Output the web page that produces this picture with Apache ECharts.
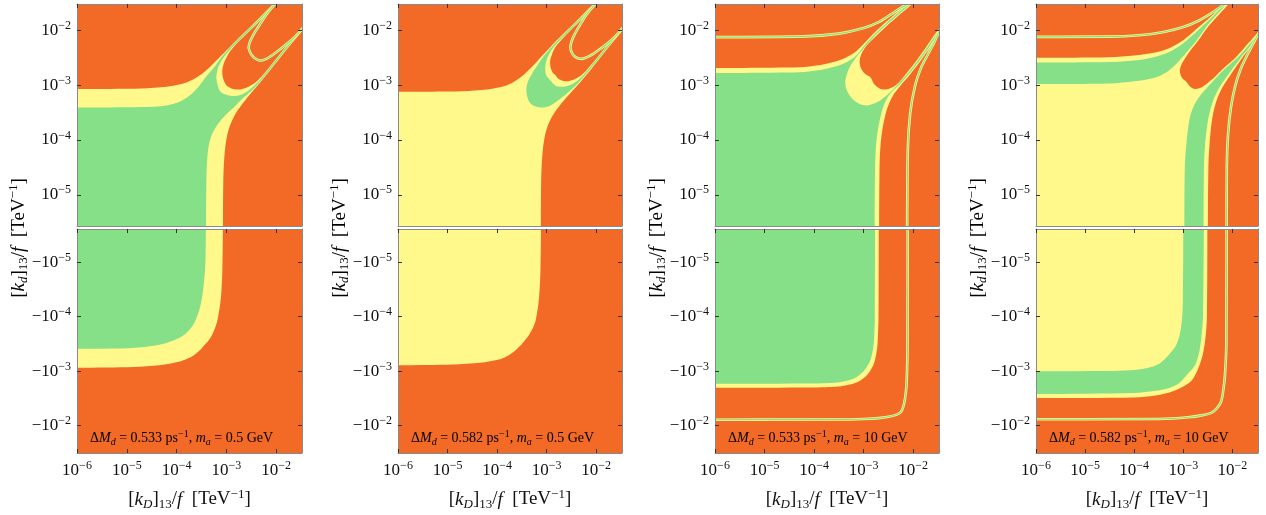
<!DOCTYPE html>
<html>
<head>
<meta charset="utf-8">
<script src="https://cdn.jsdelivr.net/npm/echarts@6/dist/echarts.min.js"></script>
<style>
  html, body { margin: 0; padding: 0; background: #ffffff; }
  #chart { width: 1266px; height: 515px; }
</style>
</head>
<body>
<div id="chart"></div>
<script>
// ---------------------------------------------------------------
// Allowed regions in the ([k_D]_13/f, [k_d]_13/f) plane.
// Coordinates are log10 of the magnitudes: [log10 kD, log10 |kd|].
// Upper half: kd > 0, lower half: kd < 0.
// ---------------------------------------------------------------
const xTicks = [-6, -5, -4, -3, -2];
const yTicks = [-5, -4, -3, -2];
const deltaM = ['0.533', '0.582', '0.533', '0.582'];
const massA = ['0.5', '0.5', '10', '10'];

// ----- panel A : dM = 0.533, m_a = 0.5 GeV -----
const aTopYellow = [[-7,-7],[-7,-3.07],[-6.2,-3.07],[-4.7,-3.06],[-4.2,-3.03],[-3.9,-2.98],[-3.7,-2.91],[-3.5,-2.80],[-3.3,-2.64],[-3.1,-2.46],[-2.9,-2.275],[-2.7,-2.095],[-2.5,-1.92],[-2.25,-1.695],[-2.04,-1.50],[-1.75,-1.235],[-1,-1],[-1.235,-1.75],[-1.50,-2.04],[-1.695,-2.25],[-1.92,-2.5],[-2.095,-2.7],[-2.275,-2.9],[-2.46,-3.1],[-2.64,-3.3],[-2.80,-3.5],[-2.91,-3.7],[-2.98,-3.9],[-3.03,-4.2],[-3.06,-4.7],[-3.07,-6.2],[-3.07,-7]];
const aTopGreen = [[-7,-7],[-7,-3.41],[-6.2,-3.41],[-4.7,-3.40],[-4.2,-3.37],[-3.95,-3.31],[-3.75,-3.20],[-3.55,-3.02],[-3.4,-2.84],[-3.25,-2.68],[-3.1,-2.49],[-2.9,-2.29],[-2.7,-2.11],[-2.5,-1.935],[-2.25,-1.71],[-2.04,-1.515],[-1.75,-1.25],[-1,-1],[-1.25,-1.75],[-1.515,-2.04],[-1.71,-2.25],[-1.935,-2.5],[-2.11,-2.7],[-2.29,-2.9],[-2.49,-3.1],[-2.68,-3.25],[-2.84,-3.4],[-3.02,-3.55],[-3.20,-3.75],[-3.31,-3.95],[-3.37,-4.2],[-3.40,-4.7],[-3.41,-6.2],[-3.41,-7]];
const aTopRim = [[-1.75,-1.285],[-2.04,-1.55],[-2.25,-1.745],[-2.5,-1.97],[-2.7,-2.145],[-2.9,-2.325],[-3.02,-2.455],[-3.12,-2.59],[-3.18,-2.72],[-3.2,-2.86],[-3.18,-2.98],[-3.12,-3.12],[-2.98,-3.18],[-2.86,-3.2],[-2.72,-3.18],[-2.59,-3.12],[-2.455,-3.02],[-2.325,-2.9],[-2.145,-2.7],[-1.97,-2.5],[-1.745,-2.25],[-1.55,-2.04],[-1.285,-1.75],[-1,-1]];
const aTopHollow = [[-1.75,-1.30],[-2.04,-1.565],[-2.25,-1.76],[-2.5,-1.985],[-2.7,-2.16],[-2.85,-2.30],[-2.96,-2.43],[-3.04,-2.58],[-3.08,-2.72],[-3.07,-2.86],[-3.0,-3.0],[-2.86,-3.07],[-2.72,-3.08],[-2.58,-3.04],[-2.43,-2.96],[-2.30,-2.85],[-2.16,-2.7],[-1.985,-2.5],[-1.76,-2.25],[-1.565,-2.04],[-1.30,-1.75],[-1,-1]];
const aTopThread = [[-1.75,-1.29],[-2.04,-1.54],[-2.2,-1.72],[-2.33,-1.90],[-2.45,-2.07],[-2.53,-2.22],[-2.55,-2.33],[-2.5,-2.44],[-2.44,-2.5],[-2.33,-2.55],[-2.22,-2.53],[-2.07,-2.45],[-1.90,-2.33],[-1.72,-2.2],[-1.54,-2.04],[-1.29,-1.75]];
const aBotYellow = [[-7,-7],[-7,-3.065],[-6.2,-3.065],[-4.87,-3.08],[-4.34,-3.11],[-3.93,-3.18],[-3.8,-3.225],[-3.66,-3.29],[-3.555,-3.365],[-3.46,-3.46],[-3.365,-3.555],[-3.29,-3.66],[-3.225,-3.8],[-3.18,-3.93],[-3.11,-4.34],[-3.08,-4.87],[-3.065,-6.2],[-3.065,-7]];
const aBotGreen = [[-7,-7],[-7,-3.41],[-6.2,-3.41],[-5.0,-3.42],[-4.54,-3.46],[-4.2,-3.52],[-3.93,-3.62],[-3.83,-3.68],[-3.75,-3.75],[-3.68,-3.83],[-3.62,-3.93],[-3.52,-4.2],[-3.46,-4.54],[-3.42,-5.0],[-3.41,-6.2],[-3.41,-7]];

// ----- panel B : dM = 0.582, m_a = 0.5 GeV -----
const bTopYellow = [[-7,-7],[-7,-3.12],[-6.2,-3.12],[-4.7,-3.11],[-4.2,-3.08],[-3.9,-3.03],[-3.7,-2.96],[-3.5,-2.84],[-3.3,-2.67],[-3.1,-2.475],[-2.9,-2.28],[-2.7,-2.095],[-2.5,-1.92],[-2.25,-1.695],[-2.04,-1.50],[-1.75,-1.235],[-1,-1],[-1.235,-1.75],[-1.50,-2.04],[-1.695,-2.25],[-1.92,-2.5],[-2.095,-2.7],[-2.28,-2.9],[-2.475,-3.1],[-2.67,-3.3],[-2.84,-3.5],[-2.96,-3.7],[-3.03,-3.9],[-3.08,-4.2],[-3.11,-4.7],[-3.12,-6.2],[-3.12,-7]];
const bTopGreen = [[-1.75,-1.25],[-2.04,-1.515],[-2.25,-1.71],[-2.5,-1.935],[-2.7,-2.115],[-2.9,-2.305],[-3.05,-2.46],[-3.18,-2.63],[-3.3,-2.80],[-3.38,-2.94],[-3.41,-3.08],[-3.39,-3.22],[-3.33,-3.33],[-3.22,-3.39],[-3.08,-3.41],[-2.94,-3.38],[-2.80,-3.3],[-2.63,-3.18],[-2.46,-3.05],[-2.305,-2.9],[-2.115,-2.7],[-1.935,-2.5],[-1.71,-2.25],[-1.515,-2.04],[-1.25,-1.75],[-1,-1]];
const bTopRim = [[-1.75,-1.285],[-2.04,-1.55],[-2.25,-1.745],[-2.5,-1.97],[-2.7,-2.15],[-2.85,-2.30],[-2.95,-2.43],[-3.01,-2.57],[-3.03,-2.70],[-3.01,-2.82],[-2.92,-2.92],[-2.82,-3.01],[-2.70,-3.03],[-2.57,-3.01],[-2.43,-2.95],[-2.30,-2.85],[-2.15,-2.7],[-1.97,-2.5],[-1.745,-2.25],[-1.55,-2.04],[-1.285,-1.75],[-1,-1]];
const bTopHollow = [[-1.75,-1.30],[-2.04,-1.565],[-2.25,-1.76],[-2.5,-1.985],[-2.7,-2.17],[-2.82,-2.30],[-2.89,-2.43],[-2.93,-2.56],[-2.92,-2.68],[-2.88,-2.77],[-2.82,-2.82],[-2.77,-2.88],[-2.68,-2.92],[-2.56,-2.93],[-2.43,-2.89],[-2.30,-2.82],[-2.17,-2.7],[-1.985,-2.5],[-1.76,-2.25],[-1.565,-2.04],[-1.30,-1.75],[-1,-1]];
const bTopThread = [[-1.75,-1.29],[-2.04,-1.545],[-2.2,-1.72],[-2.32,-1.89],[-2.43,-2.06],[-2.50,-2.21],[-2.52,-2.33],[-2.48,-2.43],[-2.43,-2.48],[-2.33,-2.52],[-2.21,-2.50],[-2.06,-2.43],[-1.89,-2.32],[-1.72,-2.2],[-1.545,-2.04],[-1.29,-1.75]];
const bBotYellow = [[-7,-7],[-7,-3.11],[-6.2,-3.11],[-4.88,-3.125],[-4.34,-3.155],[-3.94,-3.22],[-3.81,-3.27],[-3.685,-3.345],[-3.595,-3.415],[-3.5,-3.5],[-3.415,-3.595],[-3.345,-3.685],[-3.27,-3.81],[-3.22,-3.94],[-3.155,-4.34],[-3.125,-4.88],[-3.11,-6.2],[-3.11,-7]];

// ----- panel C : dM = 0.533, m_a = 10 GeV -----
const cTopYellow = [[-7,-7],[-7,-2.69],[-6.2,-2.69],[-4.5,-2.68],[-4.1,-2.66],[-3.8,-2.62],[-3.5,-2.55],[-3.3,-2.47],[-3.15,-2.38],[-3.0,-2.25],[-2.8,-2.06],[-2.54,-1.84],[-2.3,-1.65],[-2.1,-1.50],[-1.8,-1.26],[-1,-1],[-1.26,-1.8],[-1.50,-2.1],[-1.65,-2.3],[-1.84,-2.54],[-2.06,-2.8],[-2.25,-3.0],[-2.38,-3.15],[-2.47,-3.3],[-2.55,-3.5],[-2.62,-3.8],[-2.66,-4.1],[-2.68,-4.5],[-2.69,-6.2],[-2.69,-7]];
const cTopGreen = [[-7,-7],[-7,-2.78],[-6.2,-2.78],[-4.5,-2.77],[-4.1,-2.75],[-3.8,-2.71],[-3.5,-2.64],[-3.3,-2.56],[-3.15,-2.46],[-3.0,-2.29],[-2.8,-2.09],[-2.54,-1.865],[-2.3,-1.675],[-2.1,-1.525],[-1.8,-1.285],[-1,-1],[-1.285,-1.8],[-1.525,-2.1],[-1.675,-2.3],[-1.865,-2.54],[-2.09,-2.8],[-2.29,-3.0],[-2.46,-3.15],[-2.56,-3.3],[-2.64,-3.5],[-2.71,-3.8],[-2.75,-4.1],[-2.77,-4.5],[-2.78,-6.2],[-2.78,-7]];
const cTopRim = [[-1.8,-1.32],[-2.1,-1.56],[-2.3,-1.71],[-2.54,-1.90],[-2.8,-2.125],[-3.0,-2.325],[-3.15,-2.49],[-3.27,-2.65],[-3.34,-2.80],[-3.37,-2.93],[-3.35,-3.07],[-3.24,-3.24],[-3.07,-3.35],[-2.93,-3.37],[-2.80,-3.34],[-2.65,-3.27],[-2.49,-3.15],[-2.325,-3.0],[-2.125,-2.8],[-1.90,-2.54],[-1.71,-2.3],[-1.56,-2.1],[-1.32,-1.8],[-1,-1]];
const cTopHollow = [[-1.8,-1.345],[-2.1,-1.585],[-2.3,-1.735],[-2.54,-1.925],[-2.8,-2.15],[-2.95,-2.29],[-3.04,-2.42],[-3.08,-2.56],[-3.06,-2.68],[-2.98,-2.79],[-2.86,-2.86],[-2.79,-2.98],[-2.68,-3.06],[-2.56,-3.08],[-2.42,-3.04],[-2.29,-2.95],[-2.15,-2.8],[-1.925,-2.54],[-1.735,-2.3],[-1.585,-2.1],[-1.345,-1.8],[-1,-1]];
const cTopThread = [[-7,-2.125],[-4.2,-2.11],[-3.5,-2.06],[-3.0,-1.96],[-2.7,-1.85],[-2.45,-1.71],[-2.25,-1.59],[-2.07,-1.50],[-1.9,-1.37]];
const cTopThreadSide = [[-1.37,-1.9],[-1.50,-2.07],[-1.59,-2.25],[-1.71,-2.45],[-1.85,-2.7],[-1.96,-3.0],[-2.06,-3.5],[-2.11,-4.2],[-2.125,-7]];
const cBotYellow = [[-7,-7],[-7,-2.695],[-6.2,-2.695],[-4.0,-2.70],[-3.7,-2.71],[-3.45,-2.725],[-3.25,-2.76],[-3.1,-2.81],[-2.93,-2.93],[-2.81,-3.1],[-2.76,-3.25],[-2.725,-3.45],[-2.71,-3.7],[-2.70,-4.0],[-2.695,-6.2],[-2.695,-7]];
const cBotGreen = [[-7,-7],[-7,-2.77],[-6.2,-2.77],[-4.0,-2.775],[-3.7,-2.785],[-3.48,-2.80],[-3.3,-2.835],[-3.15,-2.89],[-3.0,-3.0],[-2.89,-3.15],[-2.835,-3.3],[-2.80,-3.48],[-2.785,-3.7],[-2.775,-4.0],[-2.77,-6.2],[-2.77,-7]];
const cBotThread = [[-7,-2.11],[-3.5,-2.115],[-3.0,-2.125],[-2.7,-2.14],[-2.5,-2.165],[-2.35,-2.2],[-2.25,-2.25],[-2.2,-2.35],[-2.165,-2.5],[-2.14,-2.7],[-2.125,-3.0],[-2.115,-3.5],[-2.11,-7]];

// ----- panel D : dM = 0.582, m_a = 10 GeV -----
const dTopYellow = [[-7,-7],[-7,-2.50],[-6.2,-2.50],[-4.5,-2.49],[-4.0,-2.46],[-3.6,-2.41],[-3.3,-2.33],[-3.05,-2.21],[-2.8,-2.03],[-2.5,-1.80],[-2.3,-1.63],[-2.16,-1.51],[-1.95,-1.33],[-1,-1],[-1.33,-1.95],[-1.51,-2.16],[-1.63,-2.3],[-1.80,-2.5],[-2.03,-2.8],[-2.21,-3.05],[-2.33,-3.3],[-2.41,-3.6],[-2.46,-4.0],[-2.49,-4.5],[-2.50,-6.2],[-2.50,-7]];
const dTopGreen = [[-7,-7],[-7,-2.59],[-6.2,-2.59],[-4.5,-2.58],[-4.0,-2.55],[-3.6,-2.49],[-3.3,-2.40],[-3.05,-2.27],[-2.8,-2.08],[-2.5,-1.83],[-2.3,-1.65],[-2.16,-1.53],[-1.95,-1.35],[-1,-1],[-1.35,-1.95],[-1.53,-2.16],[-1.65,-2.3],[-1.83,-2.5],[-2.08,-2.8],[-2.27,-3.05],[-2.40,-3.3],[-2.49,-3.6],[-2.55,-4.0],[-2.58,-4.5],[-2.59,-6.2],[-2.59,-7]];
const dTopCore = [[-7,-7],[-7,-2.98],[-6.2,-2.98],[-4.5,-2.97],[-4.0,-2.93],[-3.6,-2.87],[-3.35,-2.77],[-3.15,-2.62],[-2.95,-2.42],[-2.75,-2.21],[-2.5,-1.90],[-2.3,-1.70],[-2.16,-1.565],[-1.95,-1.385],[-1,-1],[-1.385,-1.95],[-1.565,-2.16],[-1.70,-2.3],[-1.90,-2.5],[-2.21,-2.75],[-2.42,-2.95],[-2.62,-3.15],[-2.77,-3.35],[-2.87,-3.6],[-2.93,-4.0],[-2.97,-4.5],[-2.98,-6.2],[-2.98,-7]];
const dTopHollow = [[-1.95,-1.42],[-2.16,-1.60],[-2.3,-1.74],[-2.5,-1.94],[-2.7,-2.19],[-2.85,-2.36],[-2.97,-2.52],[-3.05,-2.65],[-3.07,-2.76],[-3.03,-2.86],[-2.94,-2.94],[-2.86,-3.03],[-2.76,-3.07],[-2.65,-3.05],[-2.52,-2.97],[-2.36,-2.85],[-2.19,-2.7],[-1.94,-2.5],[-1.74,-2.3],[-1.60,-2.16],[-1.42,-1.95],[-1,-1]];
const dTopThread = [[-7,-2.12],[-4.5,-2.115],[-3.9,-2.09],[-3.4,-2.03],[-3.0,-1.94],[-2.7,-1.83],[-2.45,-1.70],[-2.25,-1.58],[-2.09,-1.49],[-1.9,-1.37]];
const dTopThreadSide = [[-1.37,-1.9],[-1.49,-2.09],[-1.58,-2.25],[-1.70,-2.45],[-1.83,-2.7],[-1.94,-3.0],[-2.03,-3.4],[-2.09,-3.9],[-2.115,-4.5],[-2.12,-7]];
const dBotYellow = [[-7,-7],[-7,-2.51],[-6.2,-2.51],[-4.0,-2.52],[-3.57,-2.555],[-3.25,-2.62],[-3.0,-2.72],[-2.83,-2.83],[-2.72,-3.0],[-2.62,-3.25],[-2.555,-3.57],[-2.52,-4.0],[-2.51,-6.2],[-2.51,-7]];
const dBotGreen = [[-7,-7],[-7,-2.58],[-6.2,-2.58],[-4.0,-2.60],[-3.57,-2.64],[-3.3,-2.69],[-3.1,-2.77],[-2.93,-2.93],[-2.77,-3.1],[-2.69,-3.3],[-2.64,-3.57],[-2.60,-4.0],[-2.58,-6.2],[-2.58,-7]];
const dBotCore = [[-7,-7],[-7,-3.0],[-6.2,-3.0],[-4.3,-3.01],[-3.84,-3.04],[-3.51,-3.13],[-3.3,-3.3],[-3.13,-3.51],[-3.04,-3.84],[-3.01,-4.3],[-3.0,-6.2],[-3.0,-7]];
const dBotThread = [[-7,-2.12],[-3.5,-2.125],[-2.9,-2.155],[-2.6,-2.195],[-2.43,-2.235],[-2.32,-2.32],[-2.235,-2.43],[-2.195,-2.6],[-2.155,-2.9],[-2.125,-3.5],[-2.12,-7]];

// ---------------------------------------------------------------
// styling and layout
// ---------------------------------------------------------------
const ORANGE = '#F26A25';
const GREEN = '#85E088';
const YELLOW = '#FFF88B';
const FRAME = '#8a8a8a';
const TICK = '#333333';
const INK = '#111111';
const NOTE_INK = '#742810';
const SERIF = '"Liberation Serif", "DejaVu Serif", serif';

const FRAME_LEFT = [77, 398, 715, 1036];
const FRAME_WIDTH = [225, 224, 224, 222];
const TOP_Y = 4, TOP_H = 222, BOT_Y = 229, BOT_H = 224;
const X_MIN = -6, X_MAX = -1.48;
const V_MIN = -5.57, V_MAX = -1.52;   // upper half
const E_MIN = -5.61, E_MAX = -1.5;    // lower half (magnitudes)

const fill = (pts, color) => ({ pts, color, kind: 'fill' });
const thread = pts => ({ pts, kind: 'thread' });

const panelLayers = [
  {
    top: [fill(aTopYellow, YELLOW), fill(aTopGreen, GREEN), fill(aTopRim, YELLOW), fill(aTopHollow, ORANGE), thread(aTopThread)],
    bottom: [fill(aBotYellow, YELLOW), fill(aBotGreen, GREEN)]
  },
  {
    top: [fill(bTopYellow, YELLOW), fill(bTopGreen, GREEN), fill(bTopRim, YELLOW), fill(bTopHollow, ORANGE), thread(bTopThread)],
    bottom: [fill(bBotYellow, YELLOW)]
  },
  {
    top: [fill(cTopYellow, YELLOW), fill(cTopGreen, GREEN), fill(cTopRim, YELLOW), fill(cTopHollow, ORANGE), thread(cTopThread), thread(cTopThreadSide)],
    bottom: [fill(cBotYellow, YELLOW), fill(cBotGreen, GREEN), thread(cBotThread)]
  },
  {
    top: [fill(dTopYellow, YELLOW), fill(dTopGreen, GREEN), fill(dTopCore, YELLOW), fill(dTopHollow, ORANGE), thread(dTopThread), thread(dTopThreadSide)],
    bottom: [fill(dBotYellow, YELLOW), fill(dBotGreen, GREEN), fill(dBotCore, YELLOW), thread(dBotThread)]
  }
];

function richSet(size, color) {
  const small = Math.round(size * 0.7);
  return {
    n:   { fontFamily: SERIF, fontSize: size, lineHeight: size + 4, color },
    i:   { fontFamily: SERIF, fontSize: size, lineHeight: size + 4, color, fontStyle: 'italic' },
    sup: { fontFamily: SERIF, fontSize: small, lineHeight: small - 1, color, verticalAlign: 'top' },
    sub: { fontFamily: SERIF, fontSize: small, lineHeight: small, color, verticalAlign: 'bottom' },
    si:  { fontFamily: SERIF, fontSize: small, lineHeight: small, color, verticalAlign: 'bottom', fontStyle: 'italic' }
  };
}
const TICK_RICH = richSet(17, INK);
const NAME_RICH = richSet(19, INK);
const NOTE_RICH = richSet(14, NOTE_INK);

const xName = '{n|[}{i|k}{si|D}{n|]}{sub|13}{n|/}{i|f}{n|  [TeV}{sup|−1}{n|]}';
const yName = '{n|[}{i|k}{si|d}{n|]}{sub|13}{n|/}{i|f}{n|  [TeV}{sup|−1}{n|]}';
const noteText = p => `{n|Δ}{i|M}{si|d}{n| = ${deltaM[p]} ps}{sup|−1}{n|, }{i|m}{si|a}{n| = ${massA[p]} GeV}`;

const posLabel = v => `{n|10}{sup|−${-v}}`;
const negLabel = v => `{n|−10}{sup|−${-v}}`;

const grids = [], xAxes = [], yAxes = [], series = [], graphics = [];

function axisLine() {
  return { show: true, onZero: false, lineStyle: { color: FRAME, width: 1 } };
}
function ticks(show, values) {
  return { show, inside: true, length: 4, customValues: values, lineStyle: { color: TICK, width: 1 } };
}

for (let p = 0; p < 4; p++) {
  ['top', 'bottom'].forEach(half => {
    const g = grids.length;
    const isBottom = half === 'bottom';
    grids.push({
      left: FRAME_LEFT[p], width: FRAME_WIDTH[p],
      top: isBottom ? BOT_Y : TOP_Y, height: isBottom ? BOT_H : TOP_H,
      show: true, backgroundColor: ORANGE, borderWidth: 0,
      outerBoundsMode: 'none'
    });
    xAxes.push({
      type: 'value', gridIndex: g, min: X_MIN, max: X_MAX, position: 'bottom', z: 10,
      axisLine: axisLine(), axisTick: ticks(isBottom, xTicks),
      axisLabel: { show: isBottom, customValues: xTicks, margin: 7, formatter: posLabel, rich: TICK_RICH },
      splitLine: { show: false },
      name: isBottom ? xName : '', nameLocation: 'middle', nameGap: 35,
      nameTextStyle: { rich: NAME_RICH }
    });
    xAxes.push({
      type: 'value', gridIndex: g, min: X_MIN, max: X_MAX, position: 'top', z: 10,
      axisLine: axisLine(), axisTick: ticks(true, xTicks),
      axisLabel: { show: false }, splitLine: { show: false }
    });
    yAxes.push({
      type: 'value', gridIndex: g, position: 'left', z: 10,
      min: isBottom ? E_MIN : V_MIN, max: isBottom ? E_MAX : V_MAX, inverse: isBottom,
      axisLine: axisLine(), axisTick: ticks(true, yTicks),
      axisLabel: { show: true, customValues: yTicks, margin: 6, formatter: isBottom ? negLabel : posLabel, rich: TICK_RICH },
      splitLine: { show: false }
    });
    yAxes.push({
      type: 'value', gridIndex: g, position: 'right', z: 10,
      min: isBottom ? E_MIN : V_MIN, max: isBottom ? E_MAX : V_MAX, inverse: isBottom,
      axisLine: axisLine(), axisTick: ticks(true, yTicks),
      axisLabel: { show: false }, splitLine: { show: false }
    });

    const layers = panelLayers[p][half];
    series.push({
      type: 'custom', coordinateSystem: 'cartesian2d',
      xAxisIndex: g * 2, yAxisIndex: g * 2,
      clip: true, silent: true, animation: false,
      data: layers.map(() => [-4, -4]),
      renderItem(params, api) {
        const layer = layers[params.dataIndex];
        const pts = layer.pts.map(pt => api.coord(pt));
        const base = params.dataIndex * 2;
        if (layer.kind === 'fill') {
          return { type: 'polygon', z2: base, shape: { points: pts, smooth: 0.3 }, style: { fill: layer.color } };
        }
        return {
          type: 'group',
          children: [
            { type: 'polyline', z2: base, shape: { points: pts, smooth: 0.3 }, style: { stroke: YELLOW, lineWidth: 2.6, fill: null } },
            { type: 'polyline', z2: base + 1, shape: { points: pts, smooth: 0.3 }, style: { stroke: GREEN, lineWidth: 1.1, fill: null } }
          ]
        };
      }
    });
  });

  graphics.push({
    type: 'text', z: 100, x: FRAME_LEFT[p] - 58, y: 238, rotation: Math.PI / 2,
    style: { text: yName, rich: NAME_RICH, align: 'center', verticalAlign: 'middle' }
  });
  graphics.push({
    type: 'text', z: 100, x: FRAME_LEFT[p] + 13, y: 438,
    style: { text: noteText(p), rich: NOTE_RICH, align: 'left', verticalAlign: 'middle' }
  });
}

const chart = echarts.init(document.getElementById('chart'), null, { renderer: 'canvas' });
chart.setOption({
  backgroundColor: '#ffffff',
  animation: false,
  grid: grids,
  xAxis: xAxes,
  yAxis: yAxes,
  series,
  graphic: graphics
});
</script>
</body>
</html>
